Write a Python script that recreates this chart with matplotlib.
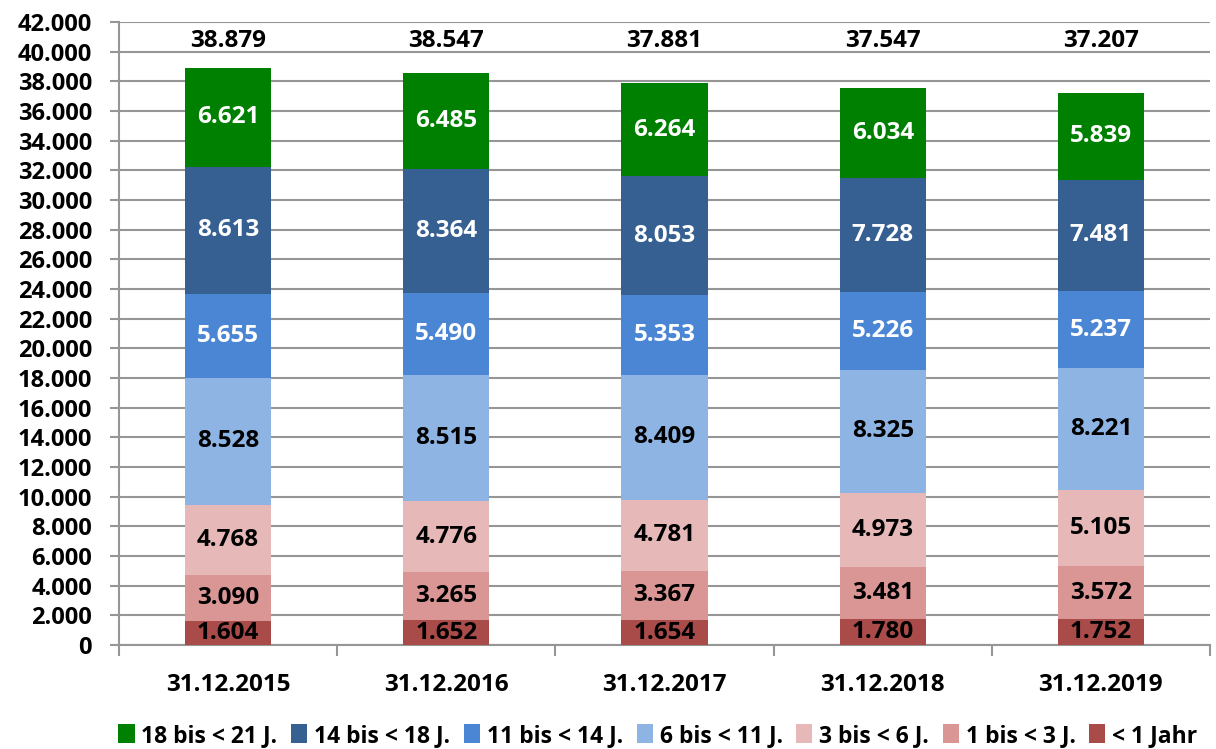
import matplotlib
matplotlib.use("Agg")
import matplotlib.pyplot as plt
import numpy as np

plt.rcParams['font.family'] = ['Open Sans', 'DejaVu Sans']
plt.rcParams['font.weight'] = 'bold'

categories = ["31.12.2015", "31.12.2016", "31.12.2017", "31.12.2018", "31.12.2019"]
series_names = ["< 1 Jahr", "1 bis < 3 J.", "3 bis < 6 J.", "6 bis < 11 J.",
                "11 bis < 14 J.", "14 bis < 18 J.", "18 bis < 21 J."]
lt1 = [1604, 1652, 1654, 1780, 1752]
b1_3 = [3090, 3265, 3367, 3481, 3572]
b3_6 = [4768, 4776, 4781, 4973, 5105]
b6_11 = [8528, 8515, 8409, 8325, 8221]
b11_14 = [5655, 5490, 5353, 5226, 5237]
b14_18 = [8613, 8364, 8053, 7728, 7481]
b18_21 = [6621, 6485, 6264, 6034, 5839]
totals = [38879, 38547, 37881, 37547, 37207]

series = [lt1, b1_3, b3_6, b6_11, b11_14, b14_18, b18_21]
colors = ["#A94B48", "#D99694", "#E6B9B8", "#8EB4E3", "#4A86D4", "#376092", "#008000"]
text_colors = ["black", "black", "black", "black", "white", "white", "white"]

def fmt(v):
    return f"{v:,}".replace(",", ".")

fig = plt.figure(figsize=(12.16, 7.49), dpi=100)
ax = fig.add_axes([119/1216, 1-645/749, 1091/1216, (645-22)/749])

x = np.arange(len(categories))
bottom = np.zeros(len(categories))
handles = []
for vals, col, tc, name in zip(series, colors, text_colors, series_names):
    v = np.array(vals, dtype=float)
    b = ax.bar(x, v, 0.395, bottom=bottom, color=col, label=name, zorder=3, linewidth=0)
    handles.append(b)
    for xi, vi, bi in zip(x, v, bottom):
        ax.text(xi, bi + vi/2, fmt(int(vi)), ha='center', va='center', color=tc,
                fontsize=17.5, fontweight='bold', zorder=4)
    bottom += v

for xi, t in zip(x, totals):
    ax.text(xi, 39900, fmt(t), ha='center', va='bottom', fontsize=17.5, fontweight='bold')

ax.set_xlim(-0.5, len(categories)-0.5)
ax.set_ylim(0, 42000)
yt = np.arange(0, 42001, 2000)
ax.set_yticks(yt)
ax.set_yticklabels([fmt(int(v)) for v in yt], fontsize=17, fontweight='bold')
ax.set_xticks(x)
ax.set_xticklabels(categories, fontsize=17.5, fontweight='bold')
ax.tick_params(axis='x', length=0, pad=20)
ax.set_xticks(np.arange(-0.5, len(categories)), minor=True)
ax.tick_params(axis='x', which='minor', length=8, color='#969696', width=1.5, direction='out')
ax.tick_params(axis='y', length=6.5, color='#969696', width=1.5, direction='out', pad=13)
ax.yaxis.grid(True, color='#969696', linewidth=1.5, zorder=0)
ax.set_axisbelow(True)
for s in ['top', 'right']:
    ax.spines[s].set_visible(False)
for s in ['left', 'bottom']:
    ax.spines[s].set_color('#969696')
    ax.spines[s].set_linewidth(1.5)

leg = fig.legend(handles[::-1], series_names[::-1], loc='lower center', ncol=7,
                 bbox_to_anchor=(0.541, -0.026), frameon=False,
                 handlelength=0.7, handleheight=0.9, handletextpad=0.3, columnspacing=0.6,
                 prop={'family': ['Open Sans', 'DejaVu Sans'], 'weight': 'bold', 'size': 16.5})

fig.savefig("out.png", dpi=100)
